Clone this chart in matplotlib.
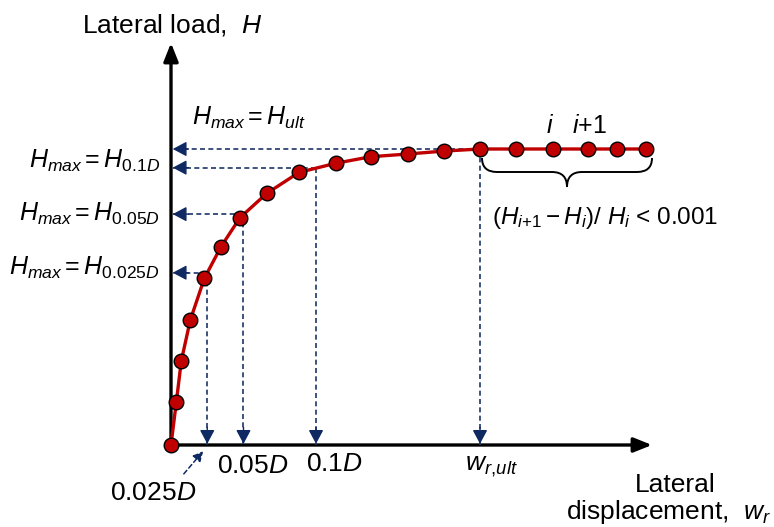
"""Schematic load-displacement curve showing how H_max is picked (0.025D / 0.05D / 0.1D / ultimate)."""
import matplotlib
matplotlib.use("Agg")
import matplotlib.pyplot as plt
from matplotlib.patches import PathPatch, FancyArrowPatch
from matplotlib.path import Path
from matplotlib.transforms import Affine2D

W, H = 774, 527

# normalised displacement w/D and normalised load H/H_ult
DISP = [0.0, 0.0037, 0.0071, 0.0133, 0.0230, 0.0345, 0.0476, 0.0660, 0.0883,
        0.1138, 0.1379, 0.1632, 0.1883, 0.2131, 0.2379, 0.2632, 0.2874, 0.3076, 0.3278]
LOAD = [0.0, 0.146, 0.284, 0.422, 0.563, 0.670, 0.768, 0.850, 0.921,
        0.952, 0.974, 0.983, 0.993, 1.0, 1.0, 1.0, 1.0, 1.0, 1.0]

# reference displacements and the matching loads (dashed guides)
REF_DISP = [0.025, 0.05, 0.1, 0.2131]
REF_LOAD = [0.582, 0.780, 0.937, 1.0]

RED = "#c00000"
NAVY = "#1c3568"
HEAD = "#0f2a63"
FS = 18
FS_TICK = 19
FS_AX = 19

plt.rcParams["font.family"] = "Liberation Sans"
plt.rcParams["mathtext.fontset"] = "custom"
plt.rcParams["mathtext.rm"] = "Liberation Sans"
plt.rcParams["mathtext.it"] = "Liberation Sans:italic"
plt.rcParams["mathtext.bf"] = "Liberation Sans:bold"


def main():
    fig = plt.figure(figsize=(W / 100, H / 100), dpi=100)
    ax = fig.add_axes([0, 0, 1, 1])
    # 1450 px per D horizontally, 296 px per H_ult vertically, origin at (171, 445)
    ax.set_xlim(-171 / 1450, (W - 171) / 1450)
    ax.set_ylim(-(H - 445) / 296, 445 / 296)
    ax.axis("off")
    PX = Affine2D().scale(1 / W, -1 / H).translate(0, 1) + fig.transFigure

    # axes with arrow heads
    xmax = (652 - 171) / 1450
    ymax = (445 - 43) / 296
    for tip in [(xmax, 0), (0, ymax)]:
        ax.annotate("", xy=tip, xytext=(0, 0),
                    arrowprops=dict(arrowstyle="-|>,head_length=0.55,head_width=0.22",
                                    lw=2.4, color="black", shrinkA=0, shrinkB=0,
                                    mutation_scale=20), zorder=2)

    # dashed guides
    dash = dict(color=NAVY, lw=1.2, linestyle=(0, (3, 2)), zorder=3)
    head = dict(arrowstyle="-|>,head_length=0.6,head_width=0.32", color=HEAD,
                lw=1.0, shrinkA=0, shrinkB=0, mutation_scale=14)
    for xr, yr in zip(REF_DISP, REF_LOAD):
        ax.plot([xr, 0.0012], [yr, yr], **dash)
        ax.plot([xr, xr], [yr, 0.0], **dash)
        ax.annotate("", xy=(0.0012, yr), xytext=(0.012, yr), arrowprops=head, zorder=4)
        ax.annotate("", xy=(xr, 0.004), xytext=(xr, 0.06), arrowprops=head, zorder=4)

    # curve + points
    ax.plot(DISP, LOAD, color=RED, lw=2.4, zorder=5)
    ax.plot(DISP, LOAD, linestyle="none", marker="o", markersize=10.5,
            markerfacecolor=RED, markeredgecolor="black", markeredgewidth=1.0, zorder=6)

    # small dashed pointer to 0.025D
    fig.add_artist(FancyArrowPatch((182, 476), (205, 449), transform=PX,
                                   arrowstyle="-|>,head_length=0.5,head_width=0.25",
                                   mutation_scale=12, color=HEAD, lw=1.1,
                                   linestyle=(0, (3, 2))))

    # brace under the last points
    verts = [(482, 158), (482, 172), (497, 172), (552, 172), (567, 172), (567, 187),
             (567, 172), (582, 172), (637, 172), (652, 172), (652, 158)]
    codes = [Path.MOVETO, Path.CURVE3, Path.CURVE3, Path.LINETO, Path.CURVE3, Path.CURVE3,
             Path.CURVE3, Path.CURVE3, Path.LINETO, Path.CURVE3, Path.CURVE3]
    fig.add_artist(PathPatch(Path(verts, codes), transform=PX, fill=False,
                             lw=1.4, edgecolor="black"))

    def txt(x, y, s, ha="left", size=FS):
        fig.text(x, y, s, transform=PX, ha=ha, va="baseline", fontsize=size, color="black")

    txt(82, 33, "Lateral load,  $H$", size=FS_AX)
    txt(675, 492, "Lateral", ha="center", size=FS_AX)
    txt(669, 519, "displacement,  $w_r$", ha="center", size=FS_AX)

    txt(192, 125, r"$H_{max} = H_{ult}$")
    txt(160, 168, r"$H_{max} = H_{0.1D}$", ha="right")
    txt(160, 221, r"$H_{max} = H_{0.05D}$", ha="right")
    txt(160, 275, r"$H_{max} = H_{0.025D}$", ha="right")

    txt(196, 500, "0.025$D$", ha="right", size=FS_TICK)
    txt(253, 473, "0.05$D$", ha="center", size=FS_TICK)
    txt(334, 471, "0.1$D$", ha="center", size=FS_TICK)
    txt(465, 470, r"$w_{r,\!ult}$", size=FS_TICK)

    txt(550, 133, "$i$", ha="center")
    txt(589, 133, "$i$+1", ha="center")
    txt(492, 224, r"$(H_{i{+}1} - H_{i})/\ H_{i}$ < 0.001", size=17.5)

    fig.savefig("out.png", dpi=100)


if __name__ == "__main__":
    main()
